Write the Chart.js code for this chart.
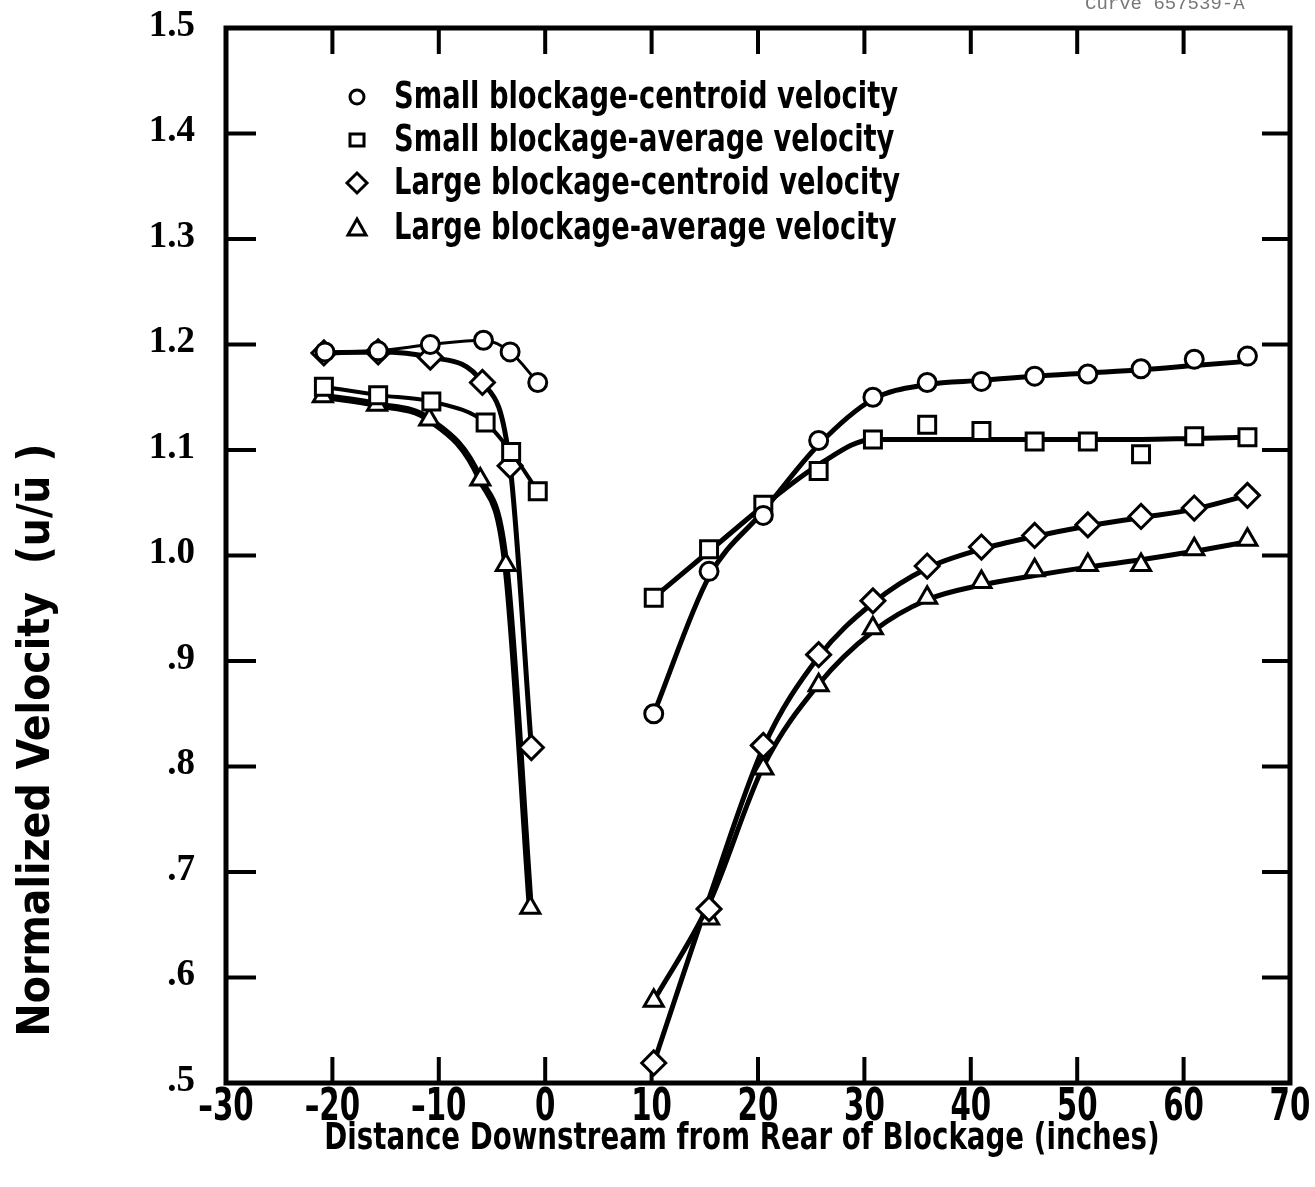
<!DOCTYPE html>
<html>
<head>
<meta charset="utf-8">
<script src="https://cdn.jsdelivr.net/npm/chart.js@4.4.0/dist/chart.umd.min.js"></script>
<style>
  html, body { margin: 0; padding: 0; background: #fff; }
  #wrap { width: 1315px; height: 1187px; }
</style>
</head>
<body>
<div id="wrap"><canvas id="chart" width="1315" height="1187"></canvas></div>
<script>
// ---- data ----
const xTickLabels = ['\u201330', '\u201320', '\u201310', '0', '10', '20', '30', '40', '50', '60', '70'];
const yTickLabels = ['.5', '.6', '.7', '.8', '.9', '1.0', '1.1', '1.2', '1.3', '1.4', '1.5'];
const legendLabels = [
  'Small blockage-centroid velocity',
  'Small blockage-average velocity',
  'Large blockage-centroid velocity',
  'Large blockage-average velocity'
];

// upstream of the blockage (negative distance)
const upXCirc = [-20.7, -15.7, -10.8, -5.8, -3.3, -0.7];
const upXSq   = [-20.8, -15.7, -10.7, -5.6, -3.2, -0.7];
const upXDia  = [-20.8, -15.7, -10.8, -5.9, -3.3, -1.3];
const upXTri  = [-20.9, -15.8, -10.9, -6.1, -3.7, -1.4];
const smallCentUp = [1.193, 1.194, 1.200, 1.204, 1.193, 1.164];
const smallAvgUp  = [1.160, 1.152, 1.146, 1.126, 1.098, 1.061];
const largeCentUp = [1.192, 1.193, 1.188, 1.164, 1.085, 0.818];
const largeAvgUp  = [1.151, 1.143, 1.129, 1.072, 0.991, 0.666];

// downstream stations
const downX = [10.2, 15.4, 20.5, 25.7, 30.8, 35.9, 41, 46, 51, 56, 61, 66];
const smallCentDown = [0.850, 0.985, 1.038, 1.109, 1.150, 1.164, 1.165, 1.170, 1.172, 1.177, 1.186, 1.189];
const smallAvgDown  = [0.960, 1.006, 1.048, 1.080, 1.110, 1.124, 1.118, 1.108, 1.108, 1.096, 1.113, 1.112];
const largeCentDown = [0.519, 0.665, 0.820, 0.906, 0.957, 0.990, 1.008, 1.019, 1.029, 1.037, 1.045, 1.057];
const largeAvgDown  = [0.578, 0.656, 0.798, 0.877, 0.931, 0.960, 0.975, 0.986, 0.991, 0.991, 1.006, 1.015];

// faired curves drawn through the downstream points
const smallCentFit = [0.850, 0.980, 1.042, 1.105, 1.148, 1.162, 1.166, 1.170, 1.173, 1.176, 1.180, 1.184];
const smallAvgFit  = [0.960, 1.004, 1.047, 1.086, 1.110, 1.110, 1.110, 1.110, 1.110, 1.110, 1.111, 1.112];
const largeCentFit = [0.519, 0.675, 0.818, 0.904, 0.955, 0.988, 1.006, 1.018, 1.028, 1.036, 1.044, 1.057];
const largeAvgFit  = [0.578, 0.670, 0.800, 0.878, 0.928, 0.958, 0.972, 0.981, 0.989, 0.996, 1.004, 1.013];

const SANS = '"DejaVu Sans Condensed", "DejaVu Sans", sans-serif';
const SERIF = '"Liberation Serif", "DejaVu Serif", serif';

const zip = (xs, ys) => xs.map((x, i) => ({ x: x, y: ys[i] }));

const markers = [
  { style: 'circle', radius: 9 },
  { style: 'rect', radius: 12 },
  { style: 'rectRot', radius: 12 },
  { style: 'triangle', radius: 11 }
];

function markerSet(data, m, line, width) {
  return {
    data: data,
    showLine: line,
    borderColor: '#000',
    borderWidth: width || 0,
    cubicInterpolationMode: 'monotone',
    pointStyle: m.style,
    pointRadius: m.radius,
    pointBorderWidth: 3,
    pointBorderColor: '#000',
    pointBackgroundColor: '#fff'
  };
}

function curveSet(data, width) {
  return {
    data: data,
    showLine: true,
    borderColor: '#000',
    borderWidth: width,
    cubicInterpolationMode: 'monotone',
    pointRadius: 0
  };
}

// condensed lettering: squeeze text horizontally
function narrowText(ctx, text, x, y, squeeze, align) {
  ctx.save();
  ctx.translate(x, y);
  ctx.scale(squeeze, 1);
  ctx.textAlign = align || 'left';
  ctx.fillText(text, 0, 0);
  ctx.restore();
}

// inward ticks, heavy frame, lettering
const framePlugin = {
  id: 'frame',
  beforeDatasetsDraw(chart) {
    const ctx = chart.ctx;
    const a = chart.chartArea;
    const xs = chart.scales.x, ys = chart.scales.y;
    ctx.save();
    ctx.strokeStyle = '#000';
    ctx.lineWidth = 4;
    ys.ticks.forEach(t => {
      if (t.value <= ys.min + 1e-6 || t.value >= ys.max - 1e-6) return;
      const py = ys.getPixelForValue(t.value);
      ctx.beginPath();
      ctx.moveTo(a.left, py); ctx.lineTo(a.left + 30, py);
      ctx.moveTo(a.right, py); ctx.lineTo(a.right - 28, py);
      ctx.stroke();
    });
    xs.ticks.forEach(t => {
      if (t.value <= xs.min || t.value >= xs.max) return;
      const px = xs.getPixelForValue(t.value);
      ctx.beginPath();
      ctx.moveTo(px, a.bottom); ctx.lineTo(px, a.bottom - 26);
      ctx.moveTo(px, a.top); ctx.lineTo(px, a.top + 26);
      ctx.stroke();
    });
    ctx.lineWidth = 5;
    ctx.strokeRect(a.left, a.top, a.right - a.left, a.bottom - a.top);
    ctx.restore();
  },
  afterDraw(chart) {
    const ctx = chart.ctx;
    const a = chart.chartArea;
    const xs = chart.scales.x, ys = chart.scales.y;
    ctx.save();
    ctx.fillStyle = '#000';
    ctx.textBaseline = 'middle';

    // y tick labels
    ctx.font = 'bold 37px ' + SERIF;
    ys.ticks.forEach(t => {
      const py = ys.getPixelForValue(t.value);
      narrowText(ctx, yTickLabels[Math.round((t.value - 0.5) * 10)], a.left - 31, py - 2, 1, 'right');
    });

    // x tick labels
    ctx.font = 'bold 44px ' + SANS;
    xs.ticks.forEach(t => {
      const px = xs.getPixelForValue(t.value);
      narrowText(ctx, xTickLabels[Math.round((t.value + 30) / 10)], px, a.bottom + 26, 0.74, 'center');
    });

    // x title
    ctx.font = 'bold 38px ' + SANS;
    narrowText(ctx, 'Distance Downstream from Rear of Blockage (inches)', 742, 1139, 0.81, 'center');

    // legend
    ctx.font = 'bold 38px ' + SANS;
    const mx = a.left + 131, tx = a.left + 168;
    const rows = [97, 140, 183, 228];
    legendLabels.forEach((lbl, i) => {
      const y = rows[i];
      ctx.lineWidth = 3;
      ctx.strokeStyle = '#000';
      ctx.fillStyle = '#fff';
      ctx.beginPath();
      if (i === 0) {
        ctx.arc(mx, y, 7, 0, Math.PI * 2);
      } else if (i === 1) {
        ctx.rect(mx - 7, y - 6, 14, 12);
      } else if (i === 2) {
        ctx.moveTo(mx, y - 10); ctx.lineTo(mx + 10, y); ctx.lineTo(mx, y + 10); ctx.lineTo(mx - 10, y); ctx.closePath();
      } else {
        ctx.moveTo(mx, y - 9); ctx.lineTo(mx + 9, y + 7); ctx.lineTo(mx - 9, y + 7); ctx.closePath();
      }
      ctx.fill();
      ctx.stroke();
      ctx.fillStyle = '#000';
      narrowText(ctx, lbl, tx, y + 1, 0.8, 'left');
    });

    // y axis title
    ctx.save();
    ctx.translate(38, 740);
    ctx.rotate(-Math.PI / 2);
    ctx.font = 'bold 44px ' + SANS;
    narrowText(ctx, 'Normalized Velocity  (u/\u016B )', 0, 0, 1, 'center');
    ctx.restore();

    // figure tag, partly cut at the top edge
    ctx.font = '19px "Liberation Mono", "DejaVu Sans Mono", monospace';
    ctx.fillStyle = '#777';
    ctx.textAlign = 'left';
    ctx.textBaseline = 'alphabetic';
    ctx.fillText('Curve 657539-A', 1085, 9);
    ctx.restore();
  }
};

new Chart(document.getElementById('chart'), {
  type: 'scatter',
  data: {
    datasets: [
      markerSet(zip(downX, smallCentDown), markers[0], false),
      markerSet(zip(downX, smallAvgDown), markers[1], false),
      markerSet(zip(downX, largeCentDown), markers[2], false),
      markerSet(zip(downX, largeAvgDown), markers[3], false),
      markerSet(zip(upXCirc, smallCentUp), markers[0], true, 3),
      markerSet(zip(upXSq, smallAvgUp), markers[1], true, 4),
      markerSet(zip(upXDia, largeCentUp), markers[2], true, 5),
      markerSet(zip(upXTri, largeAvgUp), markers[3], true, 7),
      curveSet(zip(downX, smallCentFit), 5),
      curveSet(zip(downX, smallAvgFit), 5),
      curveSet(zip(downX, largeCentFit), 5),
      curveSet(zip(downX, largeAvgFit), 5)
    ]
  },
  options: {
    responsive: false,
    animation: false,
    events: [],
    layout: { padding: { top: 28, right: 25, left: 0, bottom: 0 } },
    plugins: { legend: { display: false }, tooltip: { enabled: false } },
    scales: {
      x: {
        type: 'linear',
        min: -30, max: 70,
        border: { display: false },
        grid: { display: false, drawTicks: false },
        ticks: { stepSize: 10, display: false },
        afterFit: (s) => { s.height = 104; }
      },
      y: {
        type: 'linear',
        min: 0.5, max: 1.5,
        border: { display: false },
        grid: { display: false, drawTicks: false },
        ticks: { stepSize: 0.1, display: false },
        afterFit: (s) => { s.width = 226; }
      }
    }
  },
  plugins: [framePlugin]
});
</script>
</body>
</html>
